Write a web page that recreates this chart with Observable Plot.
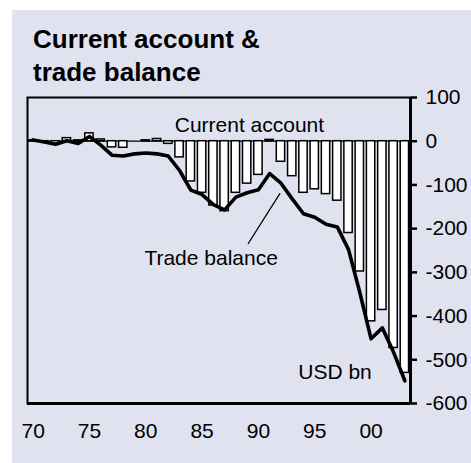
<!DOCTYPE html>
<html><head><meta charset="utf-8">
<script src="https://cdn.jsdelivr.net/npm/d3@7"></script>
<script src="https://cdn.jsdelivr.net/npm/@observablehq/plot@0.6"></script>
<style>
html,body{margin:0;padding:0;background:#fff;width:471px;height:463px;overflow:hidden;}
#panel{position:absolute;left:12px;top:10px;width:459px;height:453px;background:#e0e2f0;}
#title{position:absolute;left:33px;top:23px;font:bold 26px "Liberation Sans",Arial,sans-serif;line-height:33px;color:#000;white-space:nowrap;}
#chart{position:absolute;left:0;top:0;}
</style></head><body>
<div id="panel"></div>
<div id="title">Current account &amp;<br>trade balance</div>
<div id="chart"></div>
<script>
const years = [1970,1971,1972,1973,1974,1975,1976,1977,1978,1979,1980,1981,1982,1983,1984,1985,1986,1987,1988,1989,1990,1991,1992,1993,1994,1995,1996,1997,1998,1999,2000,2001,2002,2003];
const currentAccount = [2,-1,-6,7,2,18,4,-14,-15,0,2,5,-6,-37,-92,-118,-147,-160,-118,-97,-77,3,-47,-80,-118,-110,-121,-136,-210,-298,-412,-386,-473,-530];
const tradeBalance = [3,-2,-7,1,-5,11,-9,-32,-34,-29,-27,-29,-34,-67,-112,-122,-145,-157,-128,-118,-111,-74,-96,-132,-166,-174,-190,-196,-248,-346,-452,-427,-483,-548];
const yTicks = [100,0,-100,-200,-300,-400,-500,-600];
const xTicks = [1970,1975,1980,1985,1990,1995,2000];
const xTickLabels = ["70","75","80","85","90","95","00"];
const noteText = ["Current account","Trade balance","USD bn"];
const noteX = [1989.2,1985.8,1996.8];
const noteY = [36,-268,-528];
const leaderX = [1989.1,1991.9];
const leaderY = [-234,-120];

const rows = years.map((y,i)=>({year:y, ca:currentAccount[i], tb:tradeBalance[i]}));
const notes = noteText.map((t,i)=>({t, x:noteX[i], y:noteY[i]}));
const font = '"Liberation Sans",Arial,sans-serif';
const half = 0.37;

const chart = Plot.plot({
  width: 471, height: 463,
  marginTop: 97, marginBottom: 60, marginLeft: 27, marginRight: 61,
  style: {background: "transparent", fontFamily: font, fontSize: "21px", color: "#000"},
  x: {type: "linear", domain: [1969.5, 2003.5]},
  y: {domain: [-600, 100]},
  marks: [
    Plot.ruleY([0], {stroke: "#000", strokeWidth: 1.2}),
    Plot.rect(rows, {x1: d => d.year - half, x2: d => d.year + half, y1: 0, y2: "ca", fill: "#fff", stroke: "#000", strokeWidth: 1.5}),
    Plot.line(rows, {x: "year", y: "tb", stroke: "#000", strokeWidth: 3.6, strokeLinejoin: "round", strokeLinecap: "round"}),
    Plot.frame({stroke: "#000", strokeWidth: 2}),
    Plot.ruleX([2003.5], {stroke: "#000", strokeWidth: 3}),
    Plot.ruleY([-600], {stroke: "#000", strokeWidth: 3}),
    Plot.axisY({anchor: "right", ticks: yTicks, tickSize: 6, tickPadding: 9, tickFormat: d => String(d), label: null, fontSize: 21, strokeWidth: 2.5}),
    Plot.axisX({anchor: "bottom", ticks: xTicks, tickSize: 0, tickPadding: 20, tickFormat: d => xTickLabels[xTicks.indexOf(d)], label: null, fontSize: 21}),
    Plot.line([0,1], {x: i => leaderX[i], y: i => leaderY[i], stroke: "#000", strokeWidth: 1.3}),
    Plot.text(notes, {x: "x", y: "y", text: "t", fontSize: 21, fill: "#000"})
  ]
});
document.getElementById("chart").appendChild(chart);
</script>
</body></html>
